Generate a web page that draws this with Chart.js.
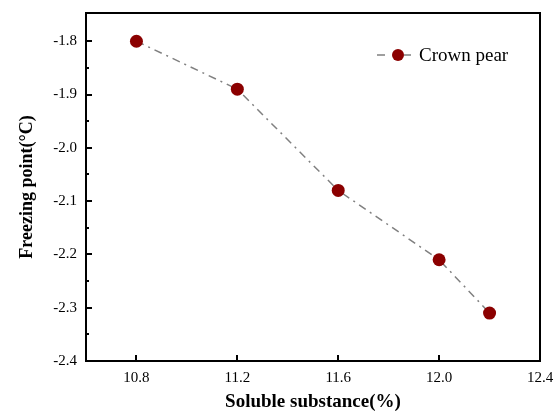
<!DOCTYPE html>
<html>
<head>
<meta charset="utf-8">
<script src="https://cdn.jsdelivr.net/npm/chart.js@4/dist/chart.umd.min.js"></script>
<style>
  html, body { margin: 0; padding: 0; background: #fff; }
</style>
</head>
<body>
<canvas id="fp" width="559" height="412"></canvas>
<script>
// soluble substance (%) vs freezing point (°C)
const solubles = [10.8, 11.2, 11.6, 12.0, 12.2];
const freezing = [-1.80, -1.89, -2.08, -2.21, -2.31];
const xTicks = [10.8, 11.2, 11.6, 12.0, 12.4];
const yTicks = [-2.4, -2.3, -2.2, -2.1, -2.0, -1.9, -1.8];
const yMinor = [-2.35, -2.25, -2.15, -2.05, -1.95, -1.85];
const seriesName = 'Crown pear';

const FONT = '"Liberation Serif", "Times New Roman", serif';
const RED = '#8b0000';
const GREY = '#808080';

// frame + inward ticks + legend, drawn on top
const frameTicks = {
  id: 'frameTicks',
  afterDraw(chart) {
    const { ctx, chartArea: a, scales: { x, y } } = chart;
    ctx.save();
    ctx.strokeStyle = '#000';
    ctx.lineWidth = 2;
    ctx.strokeRect(a.left, a.top, a.right - a.left, a.bottom - a.top);

    ctx.beginPath();
    xTicks.forEach(v => {
      const px = Math.round(x.getPixelForValue(v));
      ctx.moveTo(px, a.bottom); ctx.lineTo(px, a.bottom - 6);
    });
    yTicks.forEach(v => {
      const py = Math.round(y.getPixelForValue(v));
      ctx.moveTo(a.left, py); ctx.lineTo(a.left + 6, py);
    });
    yMinor.forEach(v => {
      const py = Math.round(y.getPixelForValue(v));
      ctx.moveTo(a.left, py); ctx.lineTo(a.left + 3, py);
    });
    ctx.stroke();

    // legend
    const lx = 377, ly = 55;
    ctx.strokeStyle = GREY;
    ctx.lineWidth = 1.5;
    ctx.beginPath();
    ctx.moveTo(lx, ly); ctx.lineTo(lx + 8, ly);
    ctx.moveTo(lx + 27, ly); ctx.lineTo(lx + 34, ly);
    ctx.stroke();
    ctx.fillStyle = RED;
    ctx.beginPath();
    ctx.arc(lx + 21, ly, 6, 0, Math.PI * 2);
    ctx.fill();
    ctx.fillStyle = '#000';
    ctx.font = '19px ' + FONT;
    ctx.textAlign = 'left';
    ctx.textBaseline = 'middle';
    ctx.fillText(seriesName, lx + 42, ly + 1);
    ctx.restore();
  }
};

new Chart(document.getElementById('fp'), {
  type: 'line',
  data: {
    datasets: [{
      label: seriesName,
      data: solubles.map((s, i) => ({ x: s, y: freezing[i] })),
      borderColor: GREY,
      borderWidth: 1.5,
      borderDash: [8, 5, 2, 5],
      pointRadius: 6.5,
      pointHoverRadius: 6.5,
      pointBackgroundColor: RED,
      pointBorderColor: RED,
      pointBorderWidth: 0,
      tension: 0,
      fill: false
    }]
  },
  options: {
    responsive: false,
    animation: false,
    devicePixelRatio: 1,
    layout: { padding: { top: 13, right: 19, left: 0, bottom: 0 } },
    plugins: { legend: { display: false }, tooltip: { enabled: false } },
    scales: {
      x: {
        type: 'linear',
        min: 10.6, max: 12.4,
        afterBuildTicks: s => { s.ticks = xTicks.map(v => ({ value: v })); },
        afterFit: s => { s.height = 51; s.paddingLeft = 0; s.paddingRight = 0; },
        grid: { display: false, drawTicks: false },
        border: { display: false },
        ticks: {
          color: '#000', padding: 8, autoSkip: false, maxRotation: 0,
          font: { family: FONT, size: 15 },
          callback: v => v.toFixed(1)
        },
        title: {
          display: true, text: 'Soluble substance(%)', color: '#000',
          font: { family: FONT, size: 19, weight: 'bold', lineHeight: 1 },
          padding: { top: 0, bottom: 0 }
        }
      },
      y: {
        type: 'linear',
        min: -2.4, max: -1.747,
        afterBuildTicks: s => { s.ticks = yTicks.map(v => ({ value: v })); },
        afterFit: s => { s.width = 86; s.paddingTop = 0; s.paddingBottom = 0; },
        grid: { display: false, drawTicks: false },
        border: { display: false },
        ticks: {
          color: '#000', padding: 9, autoSkip: false,
          font: { family: FONT, size: 15 },
          callback: v => v.toFixed(1)
        },
        title: {
          display: true, text: 'Freezing point(°C)', color: '#000',
          font: { family: FONT, size: 18, weight: 'bold', lineHeight: 1 },
          padding: { top: 18, bottom: 0 }
        }
      }
    }
  },
  plugins: [frameTicks]
});
</script>
</body>
</html>
